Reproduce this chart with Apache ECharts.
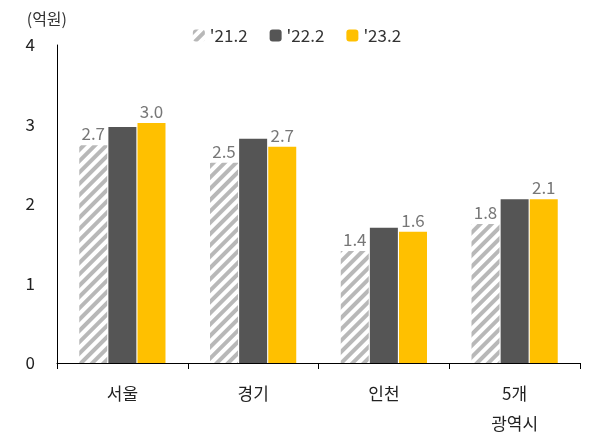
<!DOCTYPE html>
<html><head><meta charset="utf-8">
<script src="https://cdn.jsdelivr.net/npm/echarts@6/dist/echarts.min.js"></script>
<style>html,body{margin:0;padding:0;background:#fff}#c{width:594px;height:443px}</style>
</head><body><div id="c"></div>
<script>
const categories = ['서울','경기','인천','5개\n광역시'];
const s21 = [2.74, 2.52, 1.41, 1.75];
const s22 = [2.97, 2.82, 1.70, 2.06];
const s23 = [3.02, 2.72, 1.65, 2.06];
const labels21 = ['2.7','2.5','1.4','1.8'];
const labels23 = ['3.0','2.7','1.6','2.1'];
const font = 'Noto Sans CJK KR';
const chart = echarts.init(document.getElementById('c'));
const lbl = arr => ({show:true, position:'top', color:'#777', fontSize:17, fontFamily:font, formatter:p=>arr[p.dataIndex], distance:3});
chart.setOption({
  textStyle:{fontFamily:font},
  legend:{top:22, left:'center', itemWidth:12, itemHeight:12, itemGap:22, textStyle:{fontSize:17, color:'#333'}, data:["'21.2","'22.2","'23.2"]},
  grid:{left:57, right:14, top:45, bottom:80},
  xAxis:{type:'category', data:categories, axisLine:{lineStyle:{color:'#000'}}, axisTick:{show:true, alignWithLabel:false, length:6, lineStyle:{color:'#000'}}, axisLabel:{fontSize:17, color:'#222', margin:16, lineHeight:30}},
  yAxis:{type:'value', min:0, max:4, interval:1, name:'(억원)', nameLocation:'end', nameGap:18, nameTextStyle:{fontSize:16, color:'#333', align:'right', padding:[0,-10,0,0]}, axisLine:{show:true, lineStyle:{color:'#000'}}, axisTick:{show:false}, splitLine:{show:false}, axisLabel:{fontSize:17, color:'#222', margin:22}},
  series:[
    {name:"'21.2", type:'bar', data:s21, barWidth:28, barGap:'4%', label:lbl(labels21),
     itemStyle:{color:'#fff', decal:{symbol:'rect', color:'#b8b8b8', dashArrayX:[1,0], dashArrayY:[4,4], rotation:-Math.PI/4, symbolSize:1}}},
    {name:"'22.2", type:'bar', data:s22, barWidth:28, itemStyle:{color:'#555555'}},
    {name:"'23.2", type:'bar', data:s23, barWidth:28, itemStyle:{color:'#ffc000'}, label:lbl(labels23)}
  ]
});
</script></body></html>
